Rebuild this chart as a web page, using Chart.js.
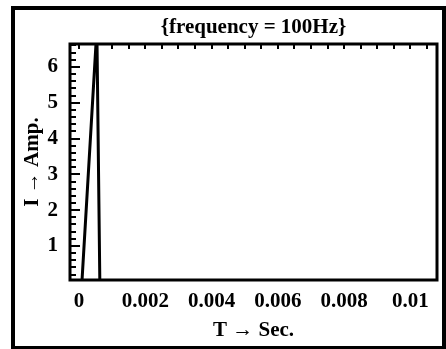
<!DOCTYPE html>
<html>
<head>
<meta charset="utf-8">
<script src="https://cdn.jsdelivr.net/npm/chart.js@4.4.1/dist/chart.umd.min.js"></script>
<style>
  html, body { margin: 0; padding: 0; background: #fff; }
  #wrap { position: relative; width: 446px; height: 349px; }
</style>
</head>
<body>
<div id="wrap"><canvas id="chart"></canvas></div>
<script>
// current pulse (time in s, current in A)
const timeSec = [0, 0.00009, 0.00054, 0.00063, 0.01];
const currentAmp = [0, 0, 7.05, 0, 0];

const xTickValues = [0, 0.002, 0.004, 0.006, 0.008, 0.01];
const xTickLabels = ["0", "0.002", "0.004", "0.006", "0.008", "0.01"];
const yTickValues = [1, 2, 3, 4, 5, 6];
const yTickLabels = ["1", "2", "3", "4", "5", "6"];

const FONT = '"Liberation Serif", "Times New Roman", serif';
const boldFont = { family: FONT, size: 21, weight: "bold" };

// frame, inward ticks and the outer border, Mathematica style
const framePlugin = {
  id: "frame",
  afterDatasetsDraw(chart) {
    const { ctx, chartArea: a, scales: { x, y } } = chart;
    ctx.save();
    ctx.strokeStyle = "#000";
    ctx.lineWidth = 2;
    for (let i = 1; i * 0.2 < y.max; i++) {
      const py = Math.round(y.getPixelForValue(i * 0.2));
      const major = i % 5 === 0;
      ctx.beginPath();
      ctx.moveTo(a.left, py);
      ctx.lineTo(a.left + (major ? 10 : 6), py);
      ctx.stroke();
    }
    for (let i = 0; i * 0.0005 < x.max; i++) {
      const px = Math.round(x.getPixelForValue(i * 0.0005));
      ctx.beginPath();
      ctx.moveTo(px, a.top);
      ctx.lineTo(px, a.top + 5);
      ctx.stroke();
    }
    ctx.lineWidth = 3;
    ctx.strokeRect(a.left, a.top, a.right - a.left, a.bottom - a.top);
    ctx.restore();
  },
  afterDraw(chart) {
    const ctx = chart.ctx;
    ctx.save();
    ctx.strokeStyle = "#000";
    ctx.lineWidth = 4;
    ctx.strokeRect(13, 8, 431, 340);
    ctx.restore();
  },
};

Chart.defaults.color = "#000";

new Chart(document.getElementById("chart"), {
  type: "line",
  data: {
    datasets: [
      {
        data: timeSec.map((t, i) => ({ x: t, y: currentAmp[i] })),
        borderColor: "#000",
        borderWidth: 3,
        pointRadius: 0,
        tension: 0,
        clip: 0,
      },
    ],
  },
  options: {
    responsive: true,
    maintainAspectRatio: false,
    animation: false,
    layout: { padding: { left: 0, right: 9, top: 0, bottom: 0 } },
    plugins: {
      legend: { display: false },
      tooltip: { enabled: false },
    },
    scales: {
      // top axis only carries the plot label, centred over the frame
      top: {
        type: "linear",
        position: "top",
        min: -0.00027,
        max: 0.0108,
        grid: { display: false, drawTicks: false },
        border: { display: false },
        ticks: { display: false },
        afterFit: (scale) => {
          scale.height = 44;
        },
        title: {
          display: true,
          text: "{frequency = 100Hz}",
          font: boldFont,
          padding: { top: 15, bottom: 0 },
        },
      },
      x: {
        type: "linear",
        position: "bottom",
        min: -0.00027,
        max: 0.0108,
        grid: { display: false, drawTicks: false },
        border: { display: false },
        afterBuildTicks: (scale) => {
          scale.ticks = xTickValues.map((v) => ({ value: v }));
        },
        afterFit: (scale) => {
          scale.height = 69;
        },
        ticks: {
          autoSkip: false,
          maxRotation: 0,
          padding: 9,
          font: boldFont,
          callback: (v, i) => xTickLabels[i],
        },
        title: {
          display: true,
          text: "T → Sec.",
          font: boldFont,
          padding: { top: 0, bottom: 6 },
        },
      },
      y: {
        min: 0.05,
        max: 6.64,
        grid: { display: false, drawTicks: false },
        border: { display: false },
        afterBuildTicks: (scale) => {
          scale.ticks = yTickValues.map((v) => ({ value: v }));
        },
        afterFit: (scale) => {
          scale.width = 70;
        },
        ticks: {
          autoSkip: false,
          padding: 12,
          font: boldFont,
          callback: (v, i) => yTickLabels[i],
        },
        title: {
          display: true,
          text: "I → Amp.",
          font: boldFont,
          padding: { top: 20, bottom: 0 },
        },
      },
    },
  },
  plugins: [framePlugin],
});
</script>
</body>
</html>
